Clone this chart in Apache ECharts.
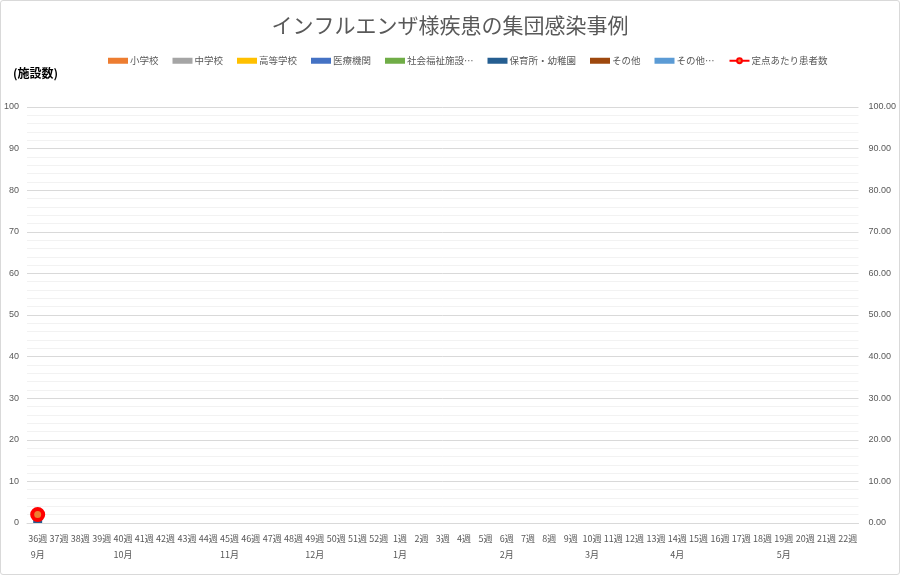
<!DOCTYPE html>
<html><head><meta charset="utf-8">
<script src="https://cdn.jsdelivr.net/npm/echarts@6/dist/echarts.min.js"></script>
<style>
html,body{margin:0;padding:0;background:#fff;}
#c{position:absolute;left:0;top:0;width:898px;height:573px;border:1px solid #d9d9d9;border-radius:3px;}
</style></head><body>
<div id="c"></div>
<script>
const weeks = ['36週','37週','38週','39週','40週','41週','42週','43週','44週','45週','46週','47週','48週','49週','50週','51週','52週',
  '1週','2週','3週','4週','5週','6週','7週','8週','9週','10週','11週','12週','13週','14週','15週','16週','17週','18週','19週','20週','21週','22週'];
const months = ['9月','','','','10月','','','','','11月','','','','12月','','','','1月','','','','','2月','','','','3月','','','','4月','','','','','5月','','',''];
const leftTicks = [0,10,20,30,40,50,60,70,80,90,100];
const seriesNames = ['小学校','中学校','高等学校','医療機関','社会福祉施設…','保育所・幼稚園','その他','その他…'];
const seriesColors = ['#ED7D31','#A5A5A5','#FFC000','#4472C4','#70AD47','#255E91','#9E480E','#5B9BD5'];
const barData = [
  [], // 小学校
  [], // 中学校
  [], // 高等学校
  [], // 医療機関
  [], // 社会福祉施設
  [1], // 保育所・幼稚園
  [], // その他
  []  // その他…
];
const lineName = '定点あたり患者数';
const lineData = [2.03];

function pad(arr){ const out=[]; for(let i=0;i<weeks.length;i++){ out.push(i<arr.length?arr[i]:null);} return out; }

const chart = echarts.init(document.getElementById('c'));
const txt = '#595959';
const bars = seriesNames.map((n,i)=>({
  name:n, type:'bar', stack:'a', data:pad(barData[i]), barCategoryGap:'58%',
  itemStyle:{color:seriesColors[i]}, xAxisIndex:0, yAxisIndex:0
}));
chart.setOption({
  animation:false,
  title:{text:'インフルエンザ様疾患の集団感染事例', left:'center', top:9,
    textStyle:{fontSize:21, fontWeight:'normal', color:txt, fontFamily:'Noto Sans CJK JP'}},
  legend:{top:50, left:102, itemWidth:20, itemHeight:6, itemGap:14,
    textStyle:{fontSize:9.5, color:txt, fontFamily:'Noto Sans CJK JP', padding:[0,0,0,-3]},
    data:[...seriesNames.map(n=>({name:n, icon:'rect'})), {name:lineName}]},
  graphic:[{type:'text', left:12, top:66, style:{text:'(施設数)', fontSize:12, fontWeight:'bold', fill:'#000', fontFamily:'Noto Sans CJK JP'}}],
  grid:{left:25, right:38, top:106, bottom:51},
  xAxis:[
    {type:'category', data:weeks, axisTick:{show:false}, axisLine:{lineStyle:{color:'#d9d9d9'}},
     axisLabel:{interval:0, fontSize:9, color:txt, margin:11, fontFamily:'Noto Sans CJK JP'}},
    {type:'category', data:months, position:'bottom', axisTick:{show:false}, axisLine:{show:false},
     axisLabel:{interval:0, fontSize:9, color:txt, margin:27, fontFamily:'Noto Sans CJK JP'}}
  ],
  yAxis:[
    {type:'value', min:0, max:100, interval:10, splitNumber:10,
     axisLabel:{fontSize:9, color:txt, margin:8, formatter:v=>leftTicks.includes(v)?String(v):''},
     splitLine:{lineStyle:{color:'#d9d9d9'}},
     minorTick:{show:false, splitNumber:5},
     minorSplitLine:{show:true, lineStyle:{color:'#f2f2f2'}}},
    {type:'value', min:0, max:100, interval:10, position:'right',
     axisLabel:{fontSize:9, color:txt, margin:10, formatter:v=>v.toFixed(2)},
     splitLine:{show:false}}
  ],
  series:[...bars,
    {name:lineName, type:'line', data:pad(lineData), yAxisIndex:1, xAxisIndex:0,
     symbol:'circle', symbolSize:11, showAllSymbol:true,
     lineStyle:{color:'#FF0000', width:3},
     itemStyle:{color:'#ED7D31', borderColor:'#FF0000', borderWidth:4}}
  ]
});
</script></body></html>
